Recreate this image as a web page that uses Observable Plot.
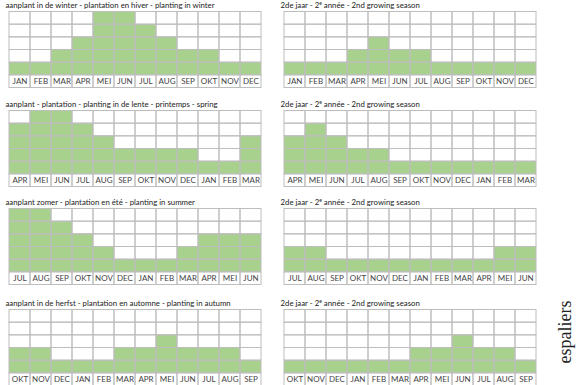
<!DOCTYPE html>
<html>
<head>
<meta charset="utf-8">
<script src="https://cdn.jsdelivr.net/npm/d3@7"></script>
<script src="https://cdn.jsdelivr.net/npm/@observablehq/plot@0.6"></script>
<style>
  html, body { margin: 0; padding: 0; background: #fff; }
  #root { position: relative; width: 580px; height: 385px; overflow: hidden; font-family: Lato, "Open Sans", sans-serif; }
  .ttl { position: absolute; font-size: 7.8px; line-height: 10px; color: #222; white-space: nowrap; }
  .ttl sup { font-size: 5px; vertical-align: 3px; line-height: 0; }
  .pnl { position: absolute; }
  #esp { position: absolute; left: 565px; top: 332px; transform: translate(-50%, -50%) rotate(-90deg); font-family: "Liberation Serif", "DejaVu Serif", serif; font-size: 18px; color: #222; white-space: nowrap; }
</style>
</head>
<body>
<div id="root"></div>
<script>
// month orders per row
const monthsWinter = ["JAN","FEB","MAR","APR","MEI","JUN","JUL","AUG","SEP","OKT","NOV","DEC"];
const monthsSpring = ["APR","MEI","JUN","JUL","AUG","SEP","OKT","NOV","DEC","JAN","FEB","MAR"];
const monthsSummer = ["JUL","AUG","SEP","OKT","NOV","DEC","JAN","FEB","MAR","APR","MEI","JUN"];
const monthsAutumn = ["OKT","NOV","DEC","JAN","FEB","MAR","APR","MEI","JUN","JUL","AUG","SEP"];

// values (number of filled cells, 0-5)
const winter1 = [1,1,2,3,5,5,4,3,2,2,1,1];
const winter2 = [1,1,1,2,3,2,2,1,1,1,1,1];
const spring1 = [4,5,5,4,3,2,2,2,2,1,1,3];
const spring2 = [3,4,3,2,2,1,1,1,1,1,1,1];
const summer1 = [5,5,4,3,2,1,1,1,2,3,3,3];
const summer2 = [2,2,1,1,1,1,1,1,1,1,2,2];
const autumn1 = [2,2,1,1,1,2,2,3,2,2,2,1];
const autumn2 = [1,1,1,1,1,1,2,2,3,2,2,1];

const titles = [
  "aanplant in de winter - plantation en hiver - planting in winter",
  "2de jaar - 2<sup>e</sup> année - 2nd growing season",
  "aanplant - plantation - planting in de lente - printemps - spring",
  "2de jaar - 2<sup>e</sup> année - 2nd growing season",
  "aanplant zomer - plantation en été - planting in summer",
  "2de jaar - 2<sup>e</sup> année - 2nd growing season",
  "aanplant in de herfst - plantation en automne - planting in autumn",
  "2de jaar - 2<sup>e</sup> année - 2nd growing season"
];

const panels = [
  [monthsWinter, winter1], [monthsWinter, winter2],
  [monthsSpring, spring1], [monthsSpring, spring2],
  [monthsSummer, summer1], [monthsSummer, summer2],
  [monthsAutumn, autumn1], [monthsAutumn, autumn2]
];

const levels = [-1, 0, 1, 2, 3, 4];
const colLeft = [4, 279];
const rowTop = [10.5, 109.5, 207.5, 308.5];
const W = 261, H = 77;
const green = "#a9d18e";
const gridColor = "#bdbdbd";

const root = document.getElementById("root");

panels.forEach(([months, values], i) => {
  const col = i % 2, row = Math.floor(i / 2);
  const left = colLeft[col], top = rowTop[row];
  const data = months.map((m, k) => ({month: m, value: values[k]}));
  const cells = months.flatMap(m => levels.map(l => ({month: m, level: l})));

  const t = document.createElement("div");
  t.className = "ttl";
  t.style.left = (left + 1.5) + "px";
  t.style.top = (top - 10.5) + "px";
  t.innerHTML = titles[i];
  root.appendChild(t);

  const svg = Plot.plot({
    width: W, height: H,
    marginTop: 0.5, marginBottom: 0.5, marginLeft: 0.5, marginRight: 0.5,
    style: {fontFamily: "Lato, sans-serif", background: "transparent"},
    x: {type: "band", domain: months, padding: 0, axis: null},
    y: {domain: [-1, 5], axis: null},
    marks: [
      Plot.barY(data, {x: "month", y1: 0, y2: "value", fill: green, inset: 0}),
      Plot.barY(cells, {x: "month", y1: "level", y2: d => d.level + 1, fill: "none", stroke: gridColor, strokeWidth: 1, inset: 0}),
      Plot.text(months, {x: d => d, y: -0.5, text: d => d, fontSize: 8, fill: "#444"})
    ]
  });
  const wrap = document.createElement("div");
  wrap.className = "pnl";
  wrap.style.left = left + "px";
  wrap.style.top = top + "px";
  wrap.appendChild(svg);
  root.appendChild(wrap);
});

const esp = document.createElement("div");
esp.id = "esp";
esp.textContent = "espaliers";
root.appendChild(esp);
</script>
</body>
</html>
